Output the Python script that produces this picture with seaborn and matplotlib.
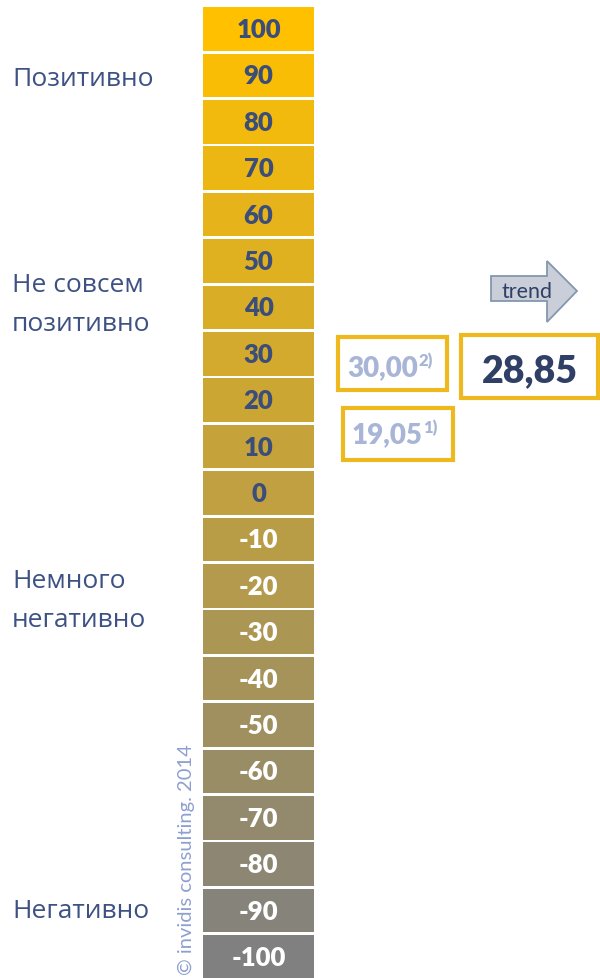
import matplotlib
matplotlib.use("Agg")
import matplotlib.pyplot as plt
import seaborn as sns
import numpy as np
from matplotlib.patches import Rectangle, Polygon

sns.set_theme(style="white")
plt.rcParams['font.family'] = ['Lato', 'Noto Sans', 'DejaVu Sans']

# ---- data ----
scale_values = [100, 90, 80, 70, 60, 50, 40, 30, 20, 10, 0,
                -10, -20, -30, -40, -50, -60, -70, -80, -90, -100]
scale_labels = [str(v) for v in scale_values]
zone_labels = ["Позитивно", "Не совсем\nпозитивно", "Немного\nнегативно", "Негативно"]
zone_anchor = [89.4, 40.8, -23, -90]
prev_values = ["30,00", "19,05"]
prev_notes = ["2)", "1)"]
current_value = "28,85"
trend_label = "trend"
copyright_text = "© invidis consulting. 2014"

W, H = 600, 979
fig = plt.figure(figsize=(W / 100, H / 100), dpi=100)

# colour gradient from gold to grey
top = np.array([255, 192, 0]) / 255
bot = np.array([128, 128, 128]) / 255
colors = [tuple(top + (bot - top) * i / (len(scale_values) - 1)) for i in range(len(scale_values))]

# scale axes
pitch = 46.4
c0 = 30.0
ax_top = c0 - pitch / 2
ax_bot = c0 + pitch * 20 + pitch / 2
ax = fig.add_axes([203 / W, 1 - ax_bot / H, 111 / W, (ax_bot - ax_top) / H])
sns.barplot(x=[1] * len(scale_values), y=scale_labels, hue=scale_labels,
            palette=colors, orient='h', width=0.94, legend=False, saturation=1,
            linewidth=0, ax=ax, order=scale_labels, hue_order=scale_labels)
ax.set_xlim(0, 1)
ax.set_ylim(20.5, -0.5)
ax.axis('off')

navy = '#3B4E7A'
for i, (v, lab) in enumerate(zip(scale_values, scale_labels)):
    ax.text(0.5, i, lab, ha='center', va='center', fontsize=18.5, fontweight=800,
            color=navy if v >= 0 else 'white')

# overlay axes in pixel coords
ov = fig.add_axes([0, 0, 1, 1])
ov.set_xlim(0, W)
ov.set_ylim(H, 0)
ov.axis('off')
ov.patch.set_alpha(0)

label_color = '#3D5283'
line_step = 39
for lab, anc in zip(zone_labels, zone_anchor):
    yc = c0 + pitch * (100 - anc) / 10
    lines = lab.split("\n")
    for k, line in enumerate(lines):
        y = yc + (k - (len(lines) - 1) / 2) * line_step
        ov.text(12, y, line, ha='left', va='center', fontsize=19, color=label_color,
                family=['Open Sans', 'DejaVu Sans'])

gold = '#EDB91E'
lw = 3.0
ov.add_patch(Rectangle((338, 338), 109, 53, fill=False, edgecolor=gold, linewidth=lw))
ov.add_patch(Rectangle((343, 409), 110, 52, fill=False, edgecolor=gold, linewidth=lw))
ov.add_patch(Rectangle((461, 336), 137, 63, fill=False, edgecolor=gold, linewidth=lw))

light = '#A8B5D6'
fig.canvas.draw()
renderer = fig.canvas.get_renderer()
for val, note, x0, base in zip(prev_values, prev_notes, [347, 352], [376, 443]):
    t = ov.text(x0, base, val, ha='left', va='baseline', fontsize=20,
                fontweight=800, color=light)
    bb = t.get_window_extent(renderer=renderer)
    xdata = ov.transData.inverted().transform((bb.x1, 0))[0]
    ov.text(xdata + 0.5, base - 10, note, ha='left', va='baseline', fontsize=12,
            fontweight=800, color=light)

ov.text(530, 382, current_value, ha='center', va='baseline', fontsize=27,
        fontweight=800, color='#2F3F66')

arrow = Polygon([(491, 277), (547, 277), (547, 262), (577, 292), (547, 323),
                 (547, 302), (491, 302)], closed=True,
                facecolor='#C9CED8', edgecolor='#8497B0', linewidth=1.3)
ov.add_patch(arrow)
ov.text(527, 292, trend_label, ha='center', va='center', fontsize=15.5,
        color='#2F3F66')

ov.text(186, 975, copyright_text, rotation=90, ha='center', va='bottom',
        fontsize=14.5, color='#8EA0D0')

fig.savefig('out.png', dpi=100)
